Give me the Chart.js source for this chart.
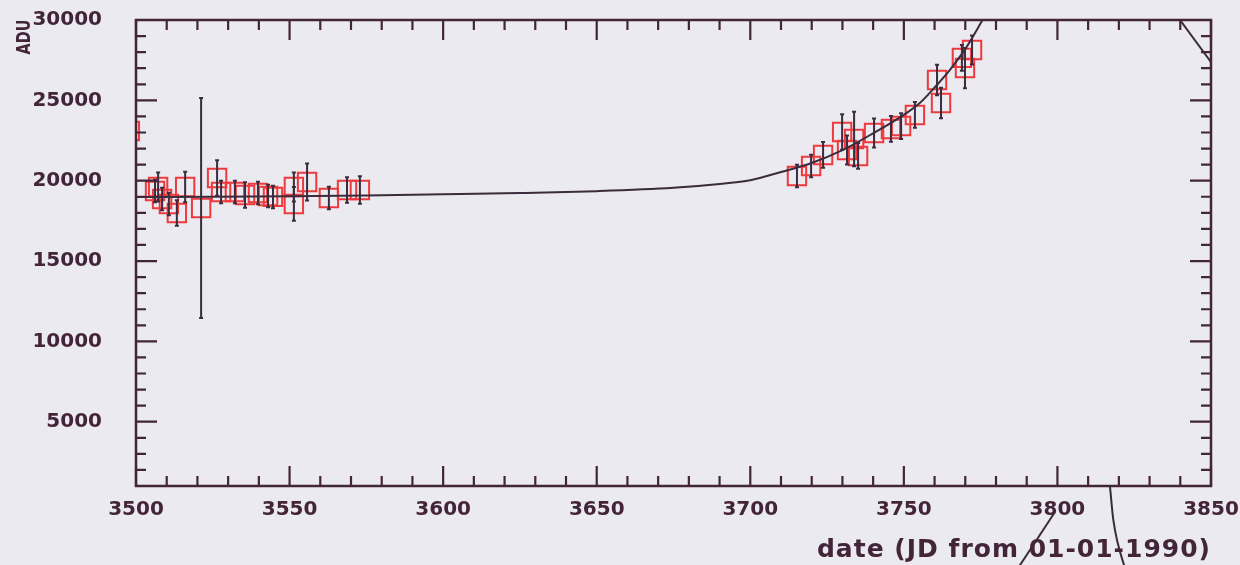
<!DOCTYPE html>
<html>
<head>
<meta charset="utf-8">
<script src="https://cdn.jsdelivr.net/npm/chart.js@4.4.1/dist/chart.umd.min.js"></script>
<style>
  html, body { margin: 0; padding: 0; background: #ebeaf1; }
  #wrap { width: 1240px; height: 565px; position: relative; }
  canvas { display: block; }
</style>
</head>
<body>
<div id="wrap"><canvas id="lc" width="1240" height="565"></canvas></div>
<script>
// Tick labels
const xTickValues = [3500, 3550, 3600, 3650, 3700, 3750, 3800, 3850];
const yTickValues = [5000, 10000, 15000, 20000, 25000, 30000];

// Photometry: date (JD from 01-01-1990), flux (ADU) and its 1-sigma error
const obsDate = [3498.0, 3506.2, 3507.2, 3508.5, 3510.7, 3513.3, 3516.0, 3521.2, 3526.4, 3527.7,
                 3532.2, 3535.5, 3539.7, 3543.0, 3544.6, 3551.4, 3551.4, 3555.7, 3562.8, 3568.7,
                 3572.9,
                 3715.2, 3719.8, 3723.7, 3729.9, 3731.5, 3733.8, 3735.1, 3740.3, 3745.8, 3749.1,
                 3753.6, 3760.8, 3762.1, 3768.9, 3769.9, 3772.2];
const obsFlux = [23090, 19360, 19610, 18860, 18550, 17990, 19610, 18300, 20170, 19300,
                 19300, 19110, 19230, 19050, 18990, 19610, 18550, 19920, 18920, 19420,
                 19420,
                 20290, 20915, 21600, 23030, 21910, 22595, 21540, 22970, 23220, 23400,
                 24090, 26270, 24835, 27640, 27010, 28130];
const obsErr  = [800, 700, 900, 700, 700, 800, 950, 6850, 1100, 700,
                 700, 800, 700, 700, 700, 900, 1050, 1150, 700, 800,
                 850,
                 700, 700, 800, 1100, 900, 1700, 800, 900, 800, 800,
                 800, 950, 950, 800, 1250, 900];

// Fitted light curve
const fitDate = [3500, 3525, 3550, 3575, 3600, 3625, 3650, 3675, 3690, 3700,
                 3710, 3720, 3730, 3740, 3750, 3755, 3760, 3765, 3770, 3775, 3780];
const fitFlux = [18990, 19000, 19030, 19080, 19150, 19230, 19350, 19560, 19800, 20030,
                 20540, 21100, 21900, 22950, 24100, 24800, 25800, 26900, 28200, 29800, 31500];

// Returning branch of the fit near the right edge, and the pieces below the axis
const wrapDate = [3838.0, 3851.6];
const wrapFlux = [30500, 26960];
const tailADate = [3785.7, 3799.2];
const tailAFlux = [-4538, -617];
const tailBDate = [3817.1, 3818.2, 3822.6];
const tailBFlux = [1000, -1110, -4538];

const INK = '#43253a';
const LINE = '#3a2c3c';
const RED = '#ee3a3c';
const BG = '#ebeaf1';
const OBS_INDEX = 4;

const pairs = (xs, ys) => xs.map((x, i) => ({ x: x, y: ys[i] }));

const background = {
  id: 'background',
  beforeDraw(chart) {
    const c = chart.ctx;
    c.save();
    c.fillStyle = BG;
    c.fillRect(0, 0, chart.width, chart.height);
    c.restore();
  }
};

// keep the square markers inside the plot frame
const markerClip = {
  id: 'markerClip',
  beforeDatasetDraw(chart, args) {
    if (args.index !== OBS_INDEX) return;
    const c = chart.ctx, a = chart.chartArea;
    c.save();
    c.beginPath();
    c.rect(a.left, a.top - 10, a.right - a.left, a.bottom - a.top + 10);
    c.clip();
  },
  afterDatasetDraw(chart, args) {
    if (args.index !== OBS_INDEX) return;
    chart.ctx.restore();
  }
};

const errorBars = {
  id: 'errorBars',
  afterDatasetsDraw(chart) {
    const c = chart.ctx, xs = chart.scales.x, ys = chart.scales.y, a = chart.chartArea;
    c.save();
    c.beginPath();
    c.rect(a.left, a.top, a.right - a.left, a.bottom - a.top);
    c.clip();
    c.strokeStyle = LINE;
    c.lineWidth = 2;
    obsDate.forEach((d, i) => {
      const px = xs.getPixelForValue(d);
      const y1 = ys.getPixelForValue(obsFlux[i] + obsErr[i]);
      const y2 = ys.getPixelForValue(obsFlux[i] - obsErr[i]);
      c.beginPath();
      c.moveTo(px, y1); c.lineTo(px, y2);
      c.moveTo(px - 2, y1); c.lineTo(px + 2, y1);
      c.moveTo(px - 2, y2); c.lineTo(px + 2, y2);
      c.stroke();
    });
    c.restore();
  }
};

function drawTicks(c, scale, from, to, step, isX, a, major, minor, majorStep) {
  for (let v = from; v <= to + 1e-6; v += step) {
    const len = (Math.abs(v / majorStep - Math.round(v / majorStep)) < 1e-6) ? major : minor;
    const p = scale.getPixelForValue(v);
    if (isX) {
      c.moveTo(p, a.bottom); c.lineTo(p, a.bottom - len);
      c.moveTo(p, a.top); c.lineTo(p, a.top + len);
    } else {
      c.moveTo(a.left, p); c.lineTo(a.left + len, p);
      c.moveTo(a.right, p); c.lineTo(a.right - len, p);
    }
  }
}

const frame = {
  id: 'frame',
  afterDraw(chart) {
    const c = chart.ctx, a = chart.chartArea, xs = chart.scales.x, ys = chart.scales.y;
    c.save();
    c.strokeStyle = INK;
    c.lineWidth = 2.5;
    c.strokeRect(a.left, a.top, a.right - a.left, a.bottom - a.top);
    c.lineWidth = 2.2;
    c.beginPath();
    drawTicks(c, xs, xs.min, xs.max, 10, true, a, 20, 10, 50);
    drawTicks(c, ys, 2000, ys.max, 1000, false, a, 21, 10, 5000);
    c.stroke();

    // axis titles
    c.fillStyle = INK;
    c.font = 'bold 25px "DejaVu Sans"';
    c.letterSpacing = '1px';
    c.textAlign = 'right';
    c.textBaseline = 'alphabetic';
    c.fillText('date (JD from 01-01-1990)', 1211, 557);
    c.letterSpacing = '0px';
    c.translate(30, 37);
    c.rotate(-Math.PI / 2);
    c.scale(0.72, 1);
    c.font = 'bold 20px "DejaVu Sans"';
    c.textAlign = 'center';
    c.fillText('ADU', 0, 0);
    c.restore();
  }
};

const noPad = (s) => { s.paddingTop = 0; s.paddingBottom = 0; s.paddingLeft = 0; s.paddingRight = 0; };

new Chart(document.getElementById('lc'), {
  type: 'scatter',
  data: {
    datasets: [
      {
        type: 'line', data: pairs(fitDate, fitFlux), borderColor: LINE, borderWidth: 2,
        pointRadius: 0, cubicInterpolationMode: 'monotone', fill: false
      },
      {
        type: 'line', data: pairs(wrapDate, wrapFlux), borderColor: LINE, borderWidth: 2,
        pointRadius: 0, fill: false
      },
      {
        type: 'line', data: pairs(tailADate, tailAFlux), borderColor: LINE, borderWidth: 2,
        pointRadius: 0, fill: false, clip: false
      },
      {
        type: 'line', data: pairs(tailBDate, tailBFlux), borderColor: LINE, borderWidth: 2,
        pointRadius: 0, fill: false, clip: false, cubicInterpolationMode: 'monotone'
      },
      {
        data: pairs(obsDate, obsFlux), pointStyle: 'rect', pointRadius: 13, pointHoverRadius: 13,
        borderColor: RED, backgroundColor: 'rgba(0,0,0,0)', borderWidth: 2
      }
    ]
  },
  options: {
    responsive: false,
    animation: false,
    devicePixelRatio: 1,
    events: [],
    layout: { padding: { top: 20, right: 29, left: 0, bottom: 0 } },
    plugins: { legend: { display: false }, tooltip: { enabled: false } },
    scales: {
      x: {
        type: 'linear', min: 3500, max: 3850,
        grid: { display: false }, border: { display: false },
        afterBuildTicks(s) { s.ticks = xTickValues.map(v => ({ value: v })); },
        afterFit(s) { s.height = 79; noPad(s); },
        ticks: {
          color: INK, padding: 4, maxRotation: 0, autoSkip: false,
          callback: (v) => String(v),
          font: { family: 'DejaVu Sans', size: 20, weight: 'bold' }
        }
      },
      y: {
        type: 'linear', min: 1000, max: 30000,
        grid: { display: false }, border: { display: false },
        afterBuildTicks(s) { s.ticks = yTickValues.map(v => ({ value: v })); },
        afterFit(s) { s.width = 136; noPad(s); },
        ticks: {
          color: INK, padding: 26, autoSkip: false,
          callback: (v) => String(v),
          font: { family: 'DejaVu Sans', size: 20, weight: 'bold' }
        }
      }
    }
  },
  plugins: [background, markerClip, errorBars, frame]
});
</script>
</body>
</html>
